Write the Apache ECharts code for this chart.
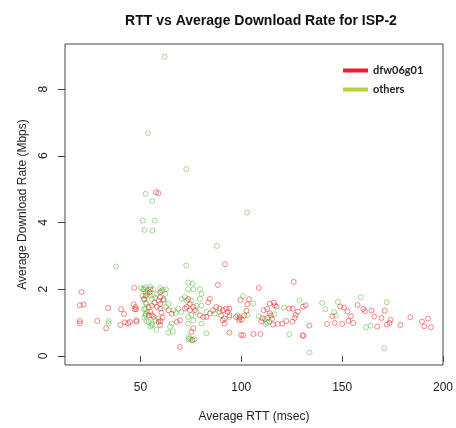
<!DOCTYPE html>
<html>
<head>
<meta charset="utf-8">
<script src="https://cdn.jsdelivr.net/npm/echarts@6/dist/echarts.min.js"></script>
<style>
  html, body { margin: 0; padding: 0; background: #fff; }
  #chart { width: 456px; height: 428px; }
</style>
</head>
<body>
<div id="chart"></div>
<script>
// values: RTT (msec) and average download rate (Mbps)
const dfwRtt = [57.7, 58.9, 91.9, 20.8, 20, 21.8, 34.0, 40.4, 41.9, 20, 20, 28.6, 33.0, 40.1, 42.3, 43.9, 47.2, 47.9, 46.6, 46.9, 48.0, 48.0,
  126.0, 108.7, 99.6, 103.8, 103.0, 102.6, 99.2, 100.3, 101, 106, 109.5, 114.1, 116.2, 117.5, 111.1, 112.8, 114.1, 116.6, 110.5, 109.9,
  114.7, 115.2, 115.7, 118.0, 120.4, 122.3, 125.3, 123.7, 125.5, 128.0, 127.0, 126.5, 130.6, 131.9, 133.8, 130.4, 130.8, 149.0, 151.0,
  145.2, 142.5, 146.3, 150.0, 157.7, 152.6, 160.5, 161.3, 164.6, 171.1, 154.4, 165.9, 169.5, 183.8, 192.5, 153.1, 155.5, 174.0, 173.5,
  172.2, 178.9, 189.6, 190.7, 194.0, 167.4, 69.5,
  54.9, 54.6, 59.8, 59.8, 59, 59.8, 58.2, 59.8, 47.5, 54.1, 55.7, 54.9, 55.7, 54.1, 56.6, 59.0, 59.8, 63.9, 65.5, 68.0, 69.6, 72.1, 72.9,
  44.8, 51.8, 52.6, 60.5, 61, 60, 57, 61.5,
  88.4, 84.4, 83.6, 73.7, 74.5, 76.2, 74.5, 77.0, 79.5, 81.1, 82.7, 84.4, 86.0, 87.6, 89.2, 90.9, 92.5, 94.1, 93.3, 90.0, 91.7, 94.1,
  97.4, 99.0, 101.5, 76.2, 75.3, 94.1, 99.9, 90.9, 91.7, 75.8];
const dfwRate = [4.91, 4.88, 2.75, 1.92, 1.52, 1.54, 1.44, 1.40, 1.26, 1.05, 0.98, 1.05, 0.83, 0.93, 1.01, 0.98, 1.40, 1.40, 1.55, 2.04, 1.07, 1.03,
  2.22, 2.04, 1.68, 1.70, 1.55, 1.35, 1.16, 1.09, 0.62, 0.66, 0.66, 1.57, 1.60, 1.48, 1.37, 1.41, 1.28, 1.52, 1.13, 1.04,
  1.21, 1.11, 0.94, 0.96, 0.97, 1.05, 1.03, 1.42, 1.42, 1.33, 1.23, 1.14, 1.48, 1.52, 0.91, 0.62, 0.60, 1.48, 1.45,
  1.19, 0.96, 0.99, 0.96, 1.53, 1.34, 1.41, 1.34, 1.36, 1.36, 1.19, 1.18, 1.14, 1.16, 1.12, 1.05, 0.99, 1.08, 0.99,
  0.94, 0.93, 1.03, 0.89, 0.86, 0.88, 0.27,
  2.0, 1.91, 1.91, 1.76, 1.66, 1.56, 1.47, 1.42, 1.47, 1.47, 1.51, 1.32, 1.22, 1.22, 1.17, 1.02, 0.92, 1.37, 1.27, 1.02, 1.07, 1.42, 1.47,
  1.02, 1.7, 1.8, 1.3, 1.15, 1.05, 1.6, 1.7,
  2.13, 1.71, 1.61, 1.71, 1.56, 1.47, 1.37, 1.37, 1.22, 1.17, 1.17, 1.27, 1.37, 1.47, 1.42, 1.37, 1.42, 1.42, 1.32, 1.22, 1.12, 1.22,
  1.17, 1.07, 1.22, 0.83, 0.73, 0.70, 0.63, 1.07, 0.97, 0.48];

const otherRtt = [62.0, 53.8, 72.7, 52.6, 55.9, 102.9, 51.2, 57.1, 52.0, 55.9, 87.9, 37.9, 72.7, 34.2, 34.2,
  100.8, 105.9, 103.0, 108.7, 111.8, 113.1, 112.8, 113.9, 116.4, 112.1, 121.2, 128.9, 123.7, 140.1, 141.7, 147.9, 146.0, 146.8,
  159.2, 172.1, 161.8, 164.1, 170.8, 133.8, 73.9, 76.8, 73.9, 82.7,
  51.3, 52.4, 53.6, 54.9, 56.2, 59.8, 61.1, 62.7, 53.3, 54.9, 55.7, 57.4, 58.2, 53.0, 52.5, 53.3, 52.5, 54.1, 55.7, 57.4, 59.0, 55.7,
  54.9, 57.9, 65.5, 64.7, 66.0, 62.7, 63.9, 61.5, 62.3, 60.6, 66.4, 67.6, 68.8, 70.1, 70.4, 72.1, 72.9, 63.8, 75.5,
  50.2, 51.8, 52.6, 51.0, 51.8, 52.6, 51.8, 52.6, 52.0, 53,
  73.7, 75.8, 76.2, 73.7, 79.5, 80.3, 79.5, 75.3, 77.8, 80.3, 77.8, 75.3, 73.7, 76.2, 73.7, 80.3, 82.7, 86.8, 89.2, 94.1, 98.2, 99.0,
  74.6];
const otherRate = [8.97, 6.68, 5.6, 4.86, 4.64, 4.30, 4.06, 4.06, 3.78, 3.76, 3.30, 2.68, 2.71, 1.05, 0.98,
  1.79, 1.57, 1.23, 1.19, 1.11, 1.14, 1.01, 1.03, 1.25, 0.96, 1.45, 1.67, 0.65, 1.59, 1.40, 1.62, 1.31, 1.21,
  1.76, 1.61, 0.86, 0.91, 0.23, 0.10, 0.50, 0.50, 0.57, 0.68,
  2.0, 2.06, 1.98, 2.07, 2.0, 2.04, 1.98, 2.0, 1.86, 1.81, 1.71, 1.74, 1.86, 1.56, 1.42, 1.32, 1.22, 1.02, 0.97, 1.07, 1.12, 0.92,
  0.88, 0.78, 0.97, 0.88, 0.73, 1.47, 1.56, 1.66, 1.86, 1.96, 1.37, 1.29, 1.42, 1.32, 1.71, 1.76, 1.66, 0.70, 0.47,
  2.04, 2.0, 1.9, 1.8, 1.7, 1.6, 1.4, 1.26, 1.15, 1.05,
  2.2, 2.17, 2.0, 2.0, 2.0, 1.86, 1.71, 1.66, 1.51, 1.51, 1.32, 1.22, 1.17, 1.07, 0.97, 0.97, 1.32, 1.27, 1.32, 1.17, 1.22, 1.12,
  0.53];

const xTicks = [50, 100, 150, 200];
const yTicks = [0, 2, 4, 6, 8];

const chart = echarts.init(document.getElementById('chart'));

const axisText = { fontFamily: 'Liberation Sans', fontSize: 12, color: '#222' };

chart.setOption({
  animation: false,
  title: {
    text: 'RTT vs Average Download Rate for ISP-2',
    left: 256,
    top: 9,
    textAlign: 'center',
    textStyle: { fontFamily: 'Liberation Sans', fontWeight: 'bold', fontSize: 14, color: '#111' },
  },
  legend: {
    orient: 'vertical',
    left: 338,
    top: 60,
    icon: 'rect',
    itemWidth: 25,
    itemHeight: 4,
    itemGap: 8,
    textStyle: { fontFamily: 'Lato', fontWeight: 'bold', fontSize: 11, color: '#222' },
    data: [
      { name: 'dfw06g01', itemStyle: { color: '#e8202a', borderWidth: 0, opacity: 1 } },
      { name: 'others', itemStyle: { color: '#b5d334', borderWidth: 0, opacity: 1 } },
    ],
  },
  grid: {
    left: 65, right: 9, top: 44, bottom: 58,
    show: true, borderColor: '#444', borderWidth: 1,
  },
  xAxis: {
    type: 'value',
    min: 12.6,
    max: 200,
    name: 'Average RTT (msec)',
    nameLocation: 'middle',
    nameGap: 46,
    nameTextStyle: axisText,
    axisLine: { show: false },
    axisTick: { show: true, length: 6, customValues: xTicks, lineStyle: { color: '#444' } },
    axisLabel: { customValues: xTicks, margin: 17, ...axisText },
    splitLine: { show: false },
  },
  yAxis: {
    type: 'value',
    min: -0.27,
    max: 9.35,
    name: 'Average Download Rate (Mbps)',
    nameLocation: 'middle',
    nameGap: 36,
    nameTextStyle: axisText,
    axisLine: { show: false },
    axisTick: { show: true, length: 7, customValues: yTicks, lineStyle: { color: '#444' } },
    axisLabel: { customValues: yTicks, rotate: 90, margin: 15, ...axisText },
    splitLine: { show: false },
  },
  series: [
    {
      name: 'others',
      type: 'scatter',
      symbol: 'circle',
      symbolSize: 5,
      itemStyle: { color: 'transparent', borderColor: 'rgba(80,185,50,0.65)', borderWidth: 1 },
      data: otherRtt.map((x, i) => [x, otherRate[i]]),
    },
    {
      name: 'dfw06g01',
      type: 'scatter',
      symbol: 'circle',
      symbolSize: 5,
      itemStyle: { color: 'transparent', borderColor: 'rgba(235,30,30,0.65)', borderWidth: 1 },
      data: dfwRtt.map((x, i) => [x, dfwRate[i]]),
    },
  ],
});
</script>
</body>
</html>
